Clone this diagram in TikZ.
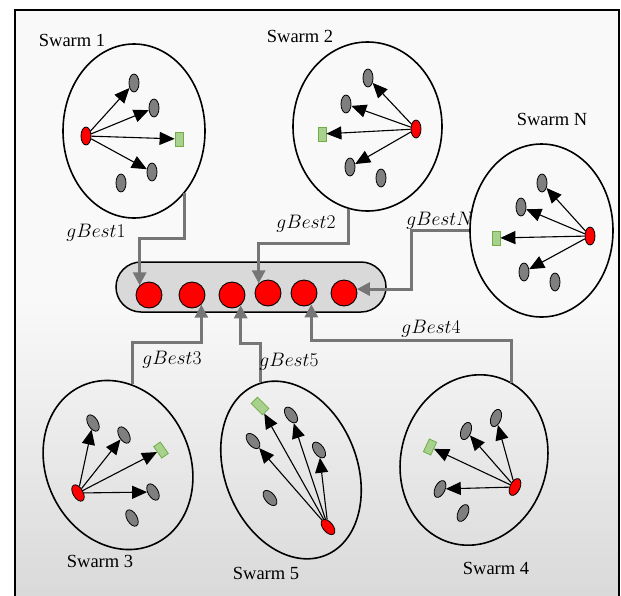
\RequirePackage{fix-cm}
\documentclass[tikz,border=0pt]{standalone}
\usepackage{fontspec}
\setmainfont{Liberation Serif}
\usetikzlibrary{arrows.meta,shapes.geometric}
\definecolor{bgtop}{HTML}{F9F9F9}
\definecolor{bgbot}{HTML}{D9D9D9}
\definecolor{pgray}{HTML}{7F7F7F}
\definecolor{gfill}{HTML}{A9D18E}
\definecolor{gline}{HTML}{70AD47}
\definecolor{lnk}{HTML}{767676}
\definecolor{barfill}{HTML}{D9D9D9}
\begin{document}
\begin{tikzpicture}[x=1pt,y=-1pt,
  swarm/.style={draw, ellipse, line width=1.6pt, inner sep=0pt},
  part/.style={draw, ellipse, fill=pgray, line width=0.8pt, minimum width=10pt, minimum height=18pt, inner sep=0pt},
  best/.style={draw, ellipse, fill=red, line width=0.8pt, minimum width=10pt, minimum height=18pt, inner sep=0pt},
  goal/.style={draw=gline, fill=gfill, rectangle, line width=0.8pt, minimum width=8pt, minimum height=14pt, inner sep=0pt},
  gb/.style={draw, circle, fill=red, line width=0.9pt, minimum size=26pt, inner sep=0pt},
  arr/.style={-{Triangle[length=15pt,width=13pt]}, line width=1.1pt},
  conn/.style={draw=lnk, line width=3pt, -{Triangle[length=13pt,width=13pt]}},
  slabel/.style={font=\fontsize{18.5}{22}\selectfont, inner sep=0pt},
  glabel/.style={font=\fontsize{19.5}{23}\selectfont, inner sep=0pt}]
\useasboundingbox (0,0) rectangle (621,595);

% frame with a light vertical gradient towards the bottom
\fill[bgtop] (15,10) rectangle (619,300);
\shade[top color=bgtop, bottom color=bgbot] (15,300) rectangle (619,600);
\draw[line width=2pt] (15,605) -- (15,10) -- (619,10) -- (619,605);

% central pool of global bests
\node[draw, fill=barfill, line width=1.5pt, rectangle, rounded corners=25pt,
      minimum width=270pt, minimum height=50pt] (pool) at (251,287) {};
\node[gb] (c1) at (149,295) {};
\node[gb] (c2) at (192,295) {};
\node[gb] (c3) at (232,295) {};
\node[gb] (c4) at (268,293) {};
\node[gb] (c5) at (304,293) {};
\node[gb] (c6) at (344,293) {};

% Swarm 1
\node[swarm, minimum width=142pt, minimum height=174pt] (s1) at (134,131) {};
\node[slabel] (l1) at (72,40) {Swarm 1};
\node[best] (r1) at (86,136) {};
\node[part] (p1a) at (134,83) {};
\node[part] (p1b) at (154,108) {};
\node[goal] (g1) at (179,139) {};
\node[part] (p1c) at (152,172) {};
\node[part] (p1d) at (121,183) {};
\draw[arr] (r1) -- (p1a);
\draw[arr] (r1) -- (p1b);
\draw[arr] (r1) -- (g1);
\draw[arr] (r1) -- (p1c);

% Swarm 2
\node[swarm, minimum width=149pt, minimum height=169pt] (s2) at (367.5,126.5) {};
\node[slabel] (l2) at (300,36) {Swarm 2};
\node[best] (r2) at (416,129) {};
\node[part] (p2a) at (368,78) {};
\node[part] (p2b) at (346,104) {};
\node[goal] (g2) at (322,134) {};
\node[part] (p2c) at (350,167) {};
\node[part] (p2d) at (381,178) {};
\draw[arr] (r2) -- (p2a);
\draw[arr] (r2) -- (p2b);
\draw[arr] (r2) -- (g2);
\draw[arr] (r2) -- (p2c);

% Swarm N
\node[swarm, minimum width=143pt, minimum height=173pt] (sN) at (541.5,230.5) {};
\node[slabel] (lN) at (552,119) {Swarm N};
\node[best] (rN) at (590,236) {};
\node[part] (pNa) at (542,183) {};
\node[part] (pNb) at (521,207) {};
\node[goal] (gN) at (496,238) {};
\node[part] (pNc) at (524,272) {};
\node[part] (pNd) at (555,282) {};
\draw[arr] (rN) -- (pNa);
\draw[arr] (rN) -- (pNb);
\draw[arr] (rN) -- (gN);
\draw[arr] (rN) -- (pNc);

% Swarm 3
\node[swarm, minimum width=144pt, minimum height=174pt, rotate=25] (s3) at (118,465) {};
\node[slabel] (l3) at (100,561) {Swarm 3};
\node[best, rotate=30] (r3) at (78,493) {};
\node[part, rotate=30] (p3a) at (93,423) {};
\node[part, rotate=30] (p3b) at (124,435) {};
\node[goal, rotate=35] (g3) at (161,450) {};
\node[part, rotate=30] (p3c) at (153,492) {};
\node[part, rotate=30] (p3d) at (132,518) {};
\draw[arr] (r3) -- (p3a);
\draw[arr] (r3) -- (p3b);
\draw[arr] (r3) -- (g3);
\draw[arr] (r3) -- (p3c);

% Swarm 5
\node[swarm, minimum width=132pt, minimum height=184pt, rotate=22] (s5) at (291,470) {};
\node[slabel] (l5) at (266,573) {Swarm 5};
\node[best, rotate=40] (r5) at (328,527) {};
\node[goal, rotate=45, minimum width=9pt, minimum height=16pt] (g5) at (260,406) {};
\node[part, rotate=35] (p5a) at (291,415) {};
\node[part, rotate=40] (p5b) at (253,441) {};
\node[part, rotate=35] (p5c) at (319,450) {};
\node[part, rotate=40] (p5d) at (270,498) {};
\draw[arr] (r5) -- (g5);
\draw[arr] (r5) -- (p5a);
\draw[arr] (r5) -- (p5b);
\draw[arr] (r5) -- (p5c);

% Swarm 4
\node[swarm, minimum width=146pt, minimum height=172pt, rotate=-15] (s4) at (474,460) {};
\node[slabel] (l4) at (496,568) {Swarm 4};
\node[best, rotate=-25] (r4) at (515,487) {};
\node[part, rotate=-20] (p4a) at (496,418) {};
\node[part, rotate=-20] (p4b) at (466,431) {};
\node[goal, rotate=-25] (g4) at (430,447) {};
\node[part, rotate=-25] (p4c) at (440,489) {};
\node[part, rotate=-25] (p4d) at (463,513) {};
\draw[arr] (r4) -- (p4a);
\draw[arr] (r4) -- (p4b);
\draw[arr] (r4) -- (g4);
\draw[arr] (r4) -- (p4c);

% links from each swarm to the pool
\draw[conn] (s1.-51) -- (s1.-51 |- 0,238) -| (c1.134);
\draw[conn] (s2.-103) -- (s2.-103 |- 0,243) -| (c4.134);
\draw[conn] (sN.west) -- ++(-58,0) |- (c6.17);
\draw[conn] (s3.55.5) -- (s3.55.5 |- 0,342) -| (c2.-46);
\draw[conn] (s5.87.4) -- (s5.87.4 |- 0,343) -| (c3.-50);
\draw[conn] (s4.79) -- (s4.79 |- 0,340) -| (c5.-57);

% link labels
\node[glabel] (t1) at (96,233) {$gBest1$};
\node[glabel] (t2) at (306,224) {$gBest2$};
\node[glabel] (tN) at (440,221) {$gBestN$};
\node[glabel] (t3) at (172,360) {$gBest3$};
\node[glabel] (t5) at (289,362) {$gBest5$};
\node[glabel] (t4) at (431,329) {$gBest4$};
\end{tikzpicture}
\end{document}
